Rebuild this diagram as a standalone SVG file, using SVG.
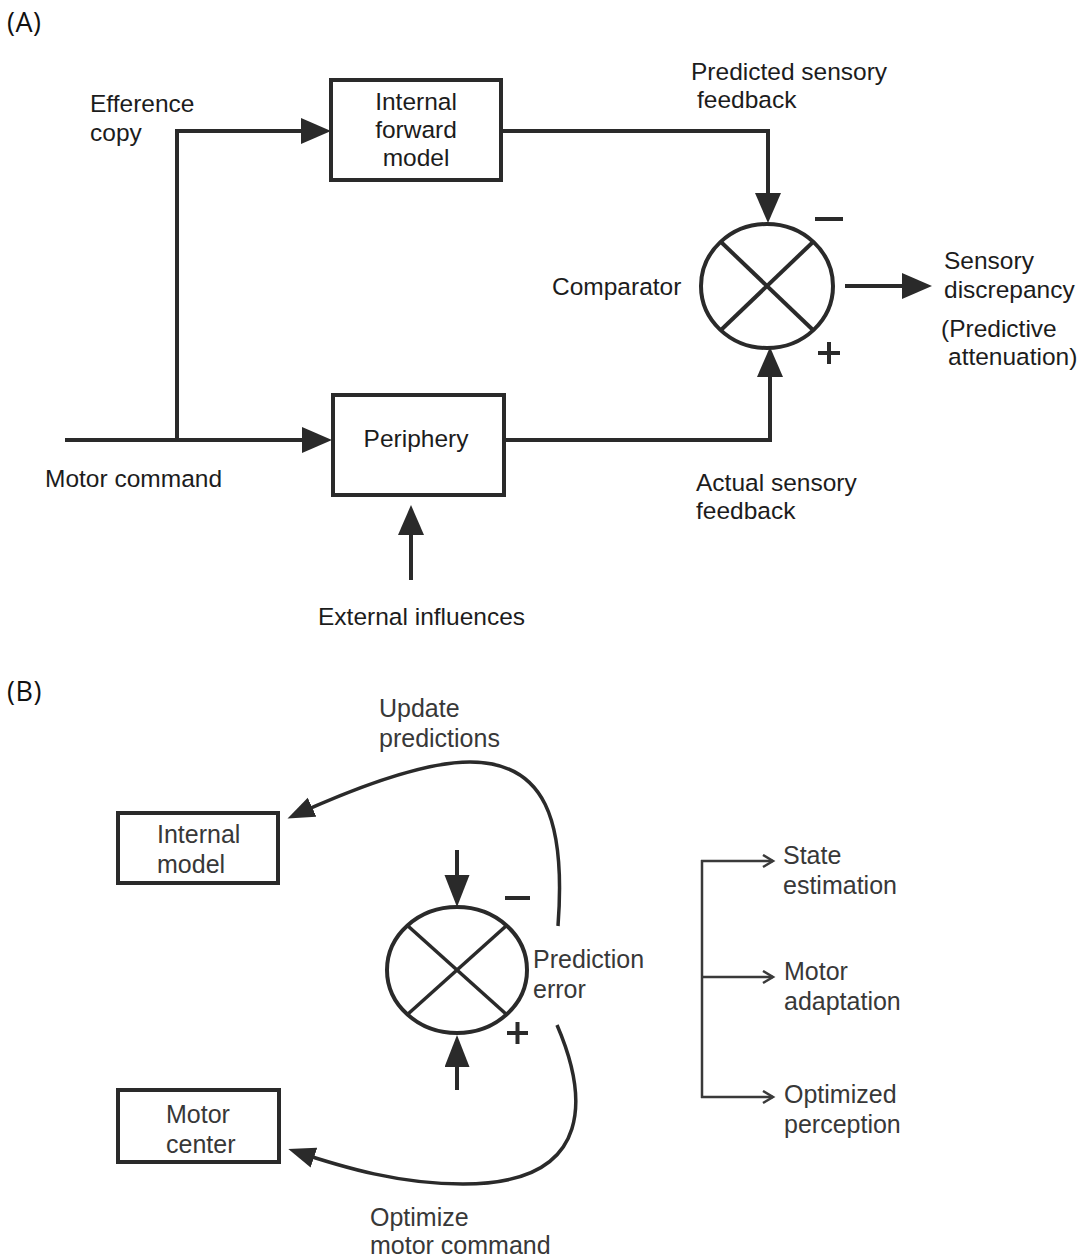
<svg xmlns="http://www.w3.org/2000/svg" width="1082" height="1260" viewBox="0 0 1082 1260">
  <style>
    .t { font-family: "Liberation Sans", Arial, sans-serif; font-size: 24.5px; fill: #1c1c1c; }
    .tb { font-family: "Liberation Sans", Arial, sans-serif; font-size: 25px; fill: #383838; }
    .lab { font-family: "Open Sans", "Liberation Sans", sans-serif; font-size: 27px; fill: #111; letter-spacing: 0.5px; }
    .box { fill: #fff; stroke: #2a2a2a; stroke-width: 4; }
    .ln { fill: none; stroke: #2a2a2a; stroke-width: 4; }
    .lnb { fill: none; stroke: #2a2a2a; stroke-width: 3.5; }
    .thin { fill: none; stroke: #3a3a3a; stroke-width: 2.5; }
    .sign { fill: none; stroke: #2a2a2a; stroke-width: 4; }
  </style>
  <defs>
    <marker id="ah" markerUnits="userSpaceOnUse" markerWidth="32" markerHeight="28" refX="25" refY="13" orient="auto">
      <path d="M0,0 L30,13 L0,26 z" fill="#2a2a2a"/>
    </marker>
    <marker id="ahb" markerUnits="userSpaceOnUse" markerWidth="34" markerHeight="27" refX="27" refY="12.5" orient="auto">
      <path d="M0,0 L32,12.5 L0,25 z" fill="#2a2a2a"/>
    </marker>
    <marker id="ahc" markerUnits="userSpaceOnUse" markerWidth="28" markerHeight="22" refX="21" refY="10.5" orient="auto">
      <path d="M0,0 L27,10.5 L0,21 z" fill="#2a2a2a"/>
    </marker>
    <marker id="chev" markerUnits="userSpaceOnUse" markerWidth="14" markerHeight="16" refX="11" refY="7" orient="auto">
      <path d="M1,1 L11,7 L1,13" fill="none" stroke="#3a3a3a" stroke-width="2.5"/>
    </marker>
  </defs>

  <rect width="1082" height="1260" fill="#fff"/>

  <!-- Panel labels -->
  <text class="lab" x="7" y="32">(A)</text>
  <text class="lab" x="7" y="701">(B)</text>

  <!-- ===== Panel A connectors ===== -->
  <g id="connectors-a">
    <path class="ln" d="M65,440 L327,440" marker-end="url(#ah)"/>
    <path class="ln" d="M177,440 L177,131 L326,131" marker-end="url(#ah)"/>
    <path class="ln" d="M501,131 L768,131 L768,218" marker-end="url(#ah)"/>
    <path class="ln" d="M504,440 L770,440 L770,352" marker-end="url(#ah)"/>
    <path class="ln" d="M411,580 L411,510" marker-end="url(#ah)"/>
    <path class="ln" d="M845,286 L927,286" marker-end="url(#ah)"/>
  </g>

  <g id="internal-forward-model">
    <rect class="box" x="331" y="80" width="170" height="100"/>
    <text class="t" x="416" y="110" text-anchor="middle">Internal</text>
    <text class="t" x="416" y="138" text-anchor="middle">forward</text>
    <text class="t" x="416" y="166" text-anchor="middle">model</text>
  </g>

  <g id="periphery">
    <rect class="box" x="333" y="395" width="171" height="100"/>
    <text class="t" x="416" y="447" text-anchor="middle">Periphery</text>
  </g>

  <g id="comparator">
    <ellipse class="ln" cx="767" cy="286" rx="66" ry="62"/>
    <line class="ln" x1="721" y1="242" x2="813" y2="330"/>
    <line class="ln" x1="813" y1="242" x2="721" y2="330"/>
    <line class="sign" x1="815" y1="219" x2="843" y2="219"/>
    <line class="sign" x1="818" y1="353" x2="840" y2="353"/>
    <line class="sign" x1="829" y1="342" x2="829" y2="364"/>
    <text class="t" x="552" y="295">Comparator</text>
  </g>

  <g id="labels-a">
    <text class="t" x="90" y="112">Efference</text>
    <text class="t" x="90" y="141">copy</text>
    <text class="t" x="691" y="80">Predicted sensory</text>
    <text class="t" x="697" y="108">feedback</text>
    <text class="t" x="944" y="269">Sensory</text>
    <text class="t" x="944" y="298">discrepancy</text>
    <text class="t" x="941" y="337">(Predictive</text>
    <text class="t" x="948" y="365">attenuation)</text>
    <text class="t" x="45" y="487">Motor command</text>
    <text class="t" x="696" y="491">Actual sensory</text>
    <text class="t" x="696" y="519">feedback</text>
    <text class="t" x="318" y="625">External influences</text>
  </g>

  <!-- ===== Panel B ===== -->
  <g id="connectors-b">
    <path class="lnb" d="M558,926 C566,820 545,762 470,762 C420,762 350,790 293,816" marker-end="url(#ahc)"/>
    <path class="lnb" d="M557,1025 C585,1090 600,1184 463,1184 C400,1184 345,1168 294,1151" marker-end="url(#ahc)"/>
    <path class="ln" d="M457,850 L457,902" marker-end="url(#ahb)"/>
    <path class="ln" d="M457,1090 L457,1040" marker-end="url(#ahb)"/>
    <path class="thin" d="M702,860 L702,1098"/>
    <path class="thin" d="M701,861 L773,861" marker-end="url(#chev)"/>
    <path class="thin" d="M701,977 L773,977" marker-end="url(#chev)"/>
    <path class="thin" d="M701,1097 L773,1097" marker-end="url(#chev)"/>
  </g>

  <g id="internal-model">
    <rect class="box" x="118" y="813" width="160" height="70"/>
    <text class="tb" x="157" y="843">Internal</text>
    <text class="tb" x="157" y="873">model</text>
  </g>

  <g id="motor-center">
    <rect class="box" x="118" y="1090" width="161" height="72"/>
    <text class="tb" x="166" y="1123">Motor</text>
    <text class="tb" x="166" y="1153">center</text>
  </g>

  <g id="prediction-error">
    <ellipse class="ln" cx="457" cy="970" rx="70" ry="63"/>
    <line class="lnb" x1="408" y1="926" x2="506" y2="1014"/>
    <line class="lnb" x1="506" y1="926" x2="408" y2="1014"/>
    <line class="sign" x1="505" y1="898" x2="530" y2="898"/>
    <line class="sign" x1="507" y1="1033" x2="528" y2="1033"/>
    <line class="sign" x1="517.5" y1="1022" x2="517.5" y2="1044"/>
    <text class="tb" x="533" y="968">Prediction</text>
    <text class="tb" x="533" y="998">error</text>
  </g>

  <g id="labels-b">
    <text class="tb" x="379" y="717">Update</text>
    <text class="tb" x="379" y="747">predictions</text>
    <text class="tb" x="370" y="1226">Optimize</text>
    <text class="tb" x="370" y="1254">motor command</text>
  </g>

  <g id="outcomes">
    <text class="tb" x="783" y="864">State</text>
    <text class="tb" x="783" y="894">estimation</text>
    <text class="tb" x="784" y="980">Motor</text>
    <text class="tb" x="784" y="1010">adaptation</text>
    <text class="tb" x="784" y="1103">Optimized</text>
    <text class="tb" x="784" y="1133">perception</text>
  </g>
</svg>
